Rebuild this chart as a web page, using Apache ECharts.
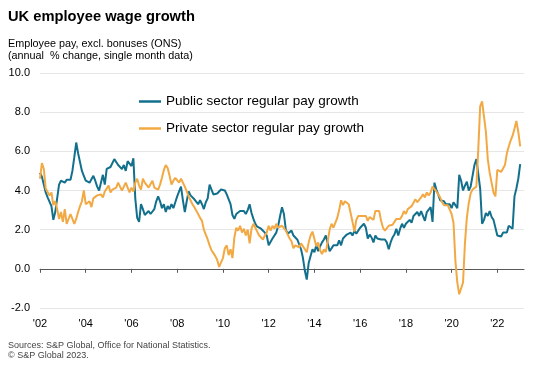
<!DOCTYPE html>
<html>
<head>
<meta charset="utf-8">
<script src="https://cdn.jsdelivr.net/npm/echarts@6/dist/echarts.min.js"></script>
<style>
html,body{margin:0;padding:0;background:#fff;}
#chart{width:538px;height:367px;}
</style>
</head>
<body>
<div id="chart"></div>
<script>
// Monthly data, Jan 2002 .. Jan 2023
var startYear = 2002;
var axisMonths = 255; // axis runs Jan 2002 .. Mar 2023
var yTicks = [-2, 0, 2, 4, 6, 8, 10];
var seriesNames = ['Public sector regular pay growth', 'Private sector regular pay growth'];

var publicPay = [
  4.9,4.7,4.3,3.9,3.65,3.7,3.2,2.5,2.9,3.6,4.3,4.5,
  4.45,4.4,4.55,4.45,4.55,5.0,5.7,6.45,5.9,5.45,5.0,4.75,
  4.5,4.55,4.4,4.4,4.75,4.5,4.2,4.0,4.05,4.8,4.3,5.1,
  5.1,5.2,5.3,5.6,5.5,5.3,5.4,5.1,5.3,5.0,5.5,5.6,
  5.25,5.65,3.6,2.6,2.4,3.3,3.05,2.75,2.85,2.95,2.8,2.8,
  3.05,3.45,3.7,3.45,3.1,3.3,2.9,3.2,3.05,3.3,3.1,3.4,
  3.7,3.95,4.2,3.5,2.9,3.45,3.95,3.75,3.65,3.55,3.45,3.3,
  3.5,3.3,3.05,3.4,3.6,4.3,4.05,3.8,3.9,3.85,3.95,4.05,
  4.15,4.0,3.8,3.7,3.3,2.75,2.55,2.8,2.9,2.95,2.9,2.95,
  2.8,3.0,3.3,2.85,2.55,2.3,2.15,2.2,2.05,2.05,1.85,1.7,
  1.2,1.3,1.55,1.65,1.85,2.2,2.7,3.15,2.8,2.0,1.8,1.85,
  1.95,1.7,1.6,1.5,1.4,1.0,0.55,-0.1,-0.55,0.3,0.65,1.0,
  0.85,1.2,0.9,1.15,1.35,1.5,1.7,1.3,0.9,1.0,1.2,1.1,
  1.2,1.45,1.2,1.55,1.6,1.75,1.65,1.85,1.7,1.95,1.8,1.9,
  2.1,2.0,2.3,2.1,1.55,1.75,1.6,1.35,1.7,1.55,1.6,1.5,
  1.45,1.5,1.35,1.0,1.35,1.6,1.75,2.05,1.7,2.05,2.3,2.1,
  2.3,2.35,2.5,2.35,2.7,2.6,2.9,2.7,2.95,3.05,2.45,2.9,
  3.0,3.15,2.4,4.4,4.05,3.8,3.5,3.55,3.45,3.3,3.2,3.3,
  3.1,3.4,3.45,3.1,4.8,4.5,4.0,4.25,4.45,4.0,4.2,4.1,
  5.3,5.6,5.65,4.1,2.3,2.5,2.85,2.7,2.95,2.65,2.5,2.55,
  1.7,1.75,1.65,1.85,1.95,1.85,2.2,2.3,2.05,3.7,4.1,4.6,
  5.35
];

var privatePay = [
  4.6,5.4,5.1,4.1,4.15,3.75,3.9,3.25,3.45,3.05,2.55,2.9,
  2.4,3.05,2.3,2.4,2.8,2.55,2.3,2.55,2.9,3.2,3.45,4.0,
  3.3,3.2,3.45,3.15,3.6,3.55,3.75,3.8,3.8,3.65,3.95,3.9,
  4.25,3.9,4.05,4.1,4.15,4.4,4.2,4.0,4.2,4.4,4.15,3.9,
  4.15,3.95,4.4,4.6,4.25,4.05,4.6,4.4,4.3,4.15,4.1,4.5,
  4.15,4.2,4.05,4.3,4.65,5.05,5.3,5.15,4.75,4.3,4.5,4.65,
  4.55,4.4,4.6,4.4,4.2,3.95,3.7,3.5,3.3,3.15,3.05,2.8,
  2.6,2.45,2.0,1.75,1.5,1.2,0.95,0.8,0.65,0.45,0.1,0.05,
  0.55,1.05,1.2,0.7,1.0,0.55,1.6,2.1,1.95,2.2,1.85,2.05,
  1.7,2.0,1.3,2.05,2.3,2.1,1.9,1.7,1.8,1.5,1.7,1.85,
  2.2,1.95,2.2,2.05,2.3,2.1,2.05,2.2,2.1,1.95,1.75,1.55,
  1.4,1.05,1.2,1.1,1.1,1.3,1.2,1.0,0.85,1.35,1.7,1.9,
  1.95,1.15,1.35,0.95,0.75,1.0,0.85,1.4,2.0,2.3,2.1,2.05,
  2.6,3.0,3.5,3.25,3.45,3.4,3.3,3.35,2.4,1.9,2.5,2.7,
  2.6,2.7,2.6,2.7,2.45,2.65,2.7,2.5,2.95,3.05,2.95,2.45,
  2.1,1.95,2.05,2.2,2.3,2.25,2.4,2.55,2.45,2.55,2.7,2.95,
  2.8,3.05,3.1,3.2,3.3,3.55,3.4,3.5,3.65,3.8,3.65,3.9,
  3.75,3.9,4.2,4.15,3.95,3.8,3.65,3.4,3.25,3.35,3.25,3.2,
  2.8,2.35,0.4,-0.7,-1.3,-1.35,-0.7,1.3,2.6,3.35,3.85,4.05,
  4.15,4.2,6.1,8.3,8.55,8.45,7.0,5.6,4.9,4.4,3.9,3.7,
  5.05,5.0,4.95,4.85,5.3,5.9,6.25,6.55,6.8,7.15,7.55,7.0,
  6.25
];

var categories = [];
for (var i = 0; i < axisMonths; i++) {
  var y = startYear + Math.floor(i / 12);
  var m = (i % 12) + 1;
  categories.push(y + '-' + (m < 10 ? '0' + m : m));
}
function isEvenYearStart(idx) {
  return idx % 24 === 0;
}

var FONT = 'Arial, "Liberation Sans", sans-serif';
var chart = echarts.init(document.getElementById('chart'), null, {renderer: 'canvas'});
chart.setOption({
  animation: false,
  backgroundColor: '#ffffff',
  textStyle: {fontFamily: FONT},
  title: [
    {text: 'UK employee wage growth', left: 3, top: 3,
     textStyle: {fontFamily: FONT, fontSize: 14.7, fontWeight: 'bold', color: '#000', lineHeight: 18}},
    {text: 'Employee pay, excl. bonuses (ONS)\n(annual  % change, single month data)', left: 3, top: 33,
     textStyle: {fontFamily: FONT, fontSize: 10.8, fontWeight: 'normal', color: '#000', lineHeight: 12}},
    {text: 'Sources: S&P Global, Office for National Statistics.\n\u00A9 S&P Global 2023.', left: 3, top: 335,
     textStyle: {fontFamily: FONT, fontSize: 9, fontWeight: 'normal', color: '#444', lineHeight: 10.5}}
  ],
  legend: {
    orient: 'vertical', left: 134, top: 89,
    icon: 'rect', itemWidth: 22, itemHeight: 2.5, itemGap: 12,
    textStyle: {fontFamily: FONT, fontSize: 13.5, color: '#000', lineHeight: 15},
    data: seriesNames
  },
  grid: {left: 40, right: 14, top: 73, bottom: 59, containLabel: false},
  xAxis: [
    {
      type: 'category', data: categories, boundaryGap: false,
      axisLine: {show: true, onZero: true, lineStyle: {color: '#595959', width: 1}},
      axisTick: {show: true, length: 4, interval: isEvenYearStart, lineStyle: {color: '#595959'}},
      axisLabel: {show: false},
      splitLine: {show: false}
    },
    {
      type: 'category', data: categories, boundaryGap: false, position: 'bottom',
      axisLine: {show: false, onZero: false},
      axisTick: {show: false},
      axisLabel: {
        show: true, interval: isEvenYearStart, margin: 10,
        fontFamily: FONT, fontSize: 11, color: '#000',
        formatter: function (v) { return "'" + v.slice(2, 4); }
      },
      splitLine: {show: false}
    }
  ],
  yAxis: {
    type: 'value', min: yTicks[0], max: yTicks[yTicks.length - 1], interval: 2,
    axisLine: {show: false}, axisTick: {show: false},
    axisLabel: {fontFamily: FONT, fontSize: 11, color: '#000', margin: 10,
      formatter: function (v) { return v.toFixed(1); }},
    splitLine: {lineStyle: {color: '#e6e6e6', width: 1}}
  },
  series: [
    {name: seriesNames[0], type: 'line', xAxisIndex: 0, data: publicPay, symbol: 'none',
     lineStyle: {color: '#13708d', width: 2}, itemStyle: {color: '#13708d'}},
    {name: seriesNames[1], type: 'line', xAxisIndex: 0, data: privatePay, symbol: 'none',
     lineStyle: {color: '#f2a944', width: 2}, itemStyle: {color: '#f2a944'}}
  ]
});
</script>
</body>
</html>
